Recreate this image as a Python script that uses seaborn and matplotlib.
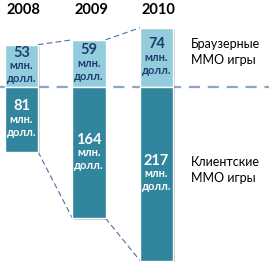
import seaborn as sns
import matplotlib.pyplot as plt
import matplotlib.patheffects as pe

# Данные
years = ['2008', '2009', '2010']
browser = [53, 59, 74]
client = [81, 164, 217]
unit_lines = ['млн.', 'долл.']
browser_label = 'Браузерные\nММО игры'
client_label = 'Клиентские\nММО игры'

sns.set_style('white')
plt.rcParams['font.family'] = ['Lato', 'DejaVu Sans']

fig = plt.figure(figsize=(2.69, 2.66), dpi=100)
ax = fig.add_axes([0, 0, 1, 1])

light = '#93cddd'
dark = '#31859c'
w = 0.49

sns.barplot(x=years, y=browser, color=light, saturation=1, width=w, ax=ax)
sns.barplot(x=years, y=[-v for v in client], color=dark, saturation=1, width=w, ax=ax)

# лёгкая тень у столбцов
for p in ax.patches:
    p.set_path_effects([pe.SimplePatchShadow(offset=(1.2, -1.2), alpha=0.25), pe.Normal()])

# масштаб: 0.8 px на единицу
px = 1 / 0.8
ax.set_xlim(-0.318, 3.667)
ax.set_ylim(-223.75, 108.75)
ax.axis('off')

# горизонтальная линия
ax.axhline(0, color='#8ea5c4', lw=1.6, ls=(0, (5, 3.5)), zorder=0)

# соединительные линии
for i in range(len(years) - 1):
    ax.plot([i + w / 2, i + 1 - w / 2], [browser[i], browser[i + 1]],
            color='#4f6f9f', lw=0.8, ls=(0, (5, 3)), zorder=0)
    ax.plot([i + w / 2, i + 1 - w / 2], [-client[i], -client[i + 1]],
            color='#4f6f9f', lw=0.8, ls=(0, (5, 3)), zorder=0)

# подписи внутри столбцов
for i in range(len(years)):
    c = browser[i] / 2
    ax.text(i, c + 13 * px, str(browser[i]), ha='center', va='center',
            fontsize=10.5, fontweight='bold', color='#1f3d6e')
    for k, t in enumerate(unit_lines):
        ax.text(i, c - k * 13 * px, t, ha='center', va='center',
                fontsize=8, fontweight='bold', color='#1f3d6e')
    c = -client[i] / 2
    ax.text(i, c + 13 * px, str(client[i]), ha='center', va='center',
            fontsize=10.5, fontweight='bold', color='white')
    for k, t in enumerate(unit_lines):
        ax.text(i, c - k * 13 * px, t, ha='center', va='center',
                fontsize=8, fontweight='bold', color='white')
    ax.text(i + 0.03, 96.25, years[i], ha='center', va='center',
            fontsize=10.5, fontweight='bold', color='black')

ax.text(2.511, 43.75, browser_label, ha='left', va='center',
        fontsize=9, color='black', linespacing=1.3)
ax.text(2.511, -103.75, client_label, ha='left', va='center',
        fontsize=9, color='black', linespacing=1.3)

plt.savefig('out.png', dpi=100)
